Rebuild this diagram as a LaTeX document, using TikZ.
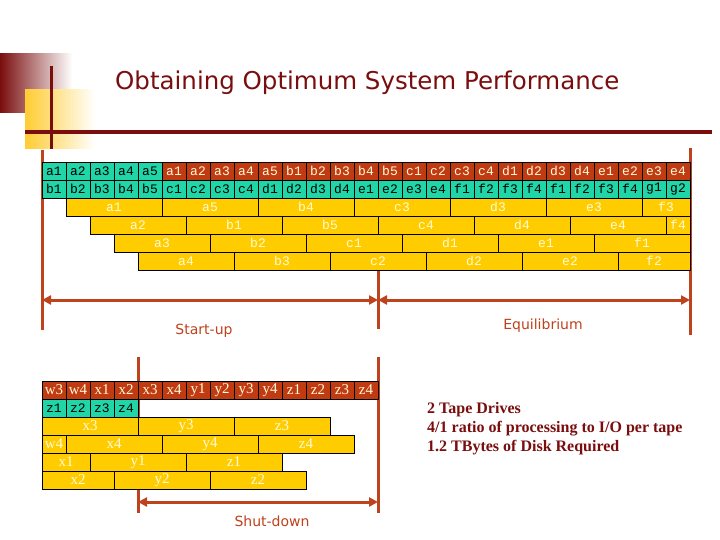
\documentclass[tikz,border=0pt]{standalone}
\usepackage{fontspec}
\setmainfont{Liberation Serif}
\newfontfamily\monof{Liberation Mono}
\newfontfamily\titlef{DejaVu Sans}
\newfontfamily\labf{DejaVu Sans}
\usetikzlibrary{arrows.meta}
\definecolor{teal1}{RGB}{32,214,168}
\definecolor{rustc}{RGB}{192,58,18}
\definecolor{yell}{RGB}{255,204,0}
\definecolor{dred}{RGB}{122,14,14}
\definecolor{linec}{RGB}{190,66,28}
\definecolor{ytext}{RGB}{255,250,215}
\definecolor{ygrad}{RGB}{255,204,51}
\begin{document}
\begin{tikzpicture}[x=1pt,y=-1pt,
 cellbase/.style={draw=black,line width=0.8pt,minimum width=24pt,minimum height=18pt,inner sep=0pt,outer sep=0pt},
 tcell/.style={cellbase,fill=teal1,text=black,font=\monof\fontsize{13}{13}\selectfont},
 rcell/.style={cellbase,fill=rustc,text=ytext,font=\monof\fontsize{13}{13}\selectfont},
 brcell/.style={cellbase,fill=rustc,text=ytext,font=\fontsize{15}{15}\selectfont},
 yblock/.style={cellbase,fill=yell,text=ytext,font=\monof\fontsize{13}{13}\selectfont},
 byblock/.style={cellbase,fill=yell,text=ytext,font=\fontsize{15}{15}\selectfont},
 guide/.style={draw=linec,line width=3pt},
 spanarrow/.style={guide,{Triangle[length=9pt,width=9pt]}-{Triangle[length=9pt,width=9pt]}},
 phase/.style={text=linec,font=\labf\fontsize{14}{14}\selectfont},
]
\useasboundingbox (0,0) rectangle (720,540);
\fill[white] (0,0) rectangle (720,540);
% decoration
\shade[left color=dred,right color=white] (0,54) rectangle (72,113);
\shade[left color=ygrad,right color=white] (25,90) rectangle (95,149);
\draw[dred,line width=3pt] (51,66) -- (51,149);
\draw[dred,line width=3.5pt] (25,132) -- (712,132);
\node[font=\titlef\fontsize{24.5}{24.5}\selectfont,text=dred,anchor=west,inner sep=0pt] (title) at (115,83) {Obtaining Optimum System Performance};
% guide lines
\coordinate (L1) at (42,150); \coordinate (L2) at (42,330);
\coordinate (M1) at (378,270); \coordinate (M2) at (378,329);
\coordinate (R1) at (690,148); \coordinate (R2) at (690,335);
\coordinate (B1) at (138,357); \coordinate (B2) at (138,513);
\coordinate (B3) at (378,357); \coordinate (B4) at (378,513);
\coordinate (A1) at (42,300); \coordinate (A2) at (378,300); \coordinate (A3) at (690,300);
\coordinate (S1) at (138,502); \coordinate (S2) at (378,502);
\draw[guide] (L1) -- (L2);
\draw[guide] (M1) -- (M2);
\draw[guide] (R1) -- (R2);
\draw[guide] (B1) -- (B2);
\draw[guide] (B3) -- (B4);
% top table
\foreach \t [count=\i from 0] in {a1,a2,a3,a4,a5}
  {\node[tcell] (ta\i) at (54+24*\i,171) {\t};}
\foreach \t [count=\i from 5] in {a1,a2,a3,a4,a5,b1,b2,b3,b4,b5,c1,c2,c3,c4,d1,d2,d3,d4,e1,e2,e3,e4}
  {\node[rcell] (ta\i) at (54+24*\i,171) {\t};}
\foreach \t [count=\i from 0] in {b1,b2,b3,b4,b5,c1,c2,c3,c4,d1,d2,d3,d4,e1,e2,e3,e4,f1,f2,f3,f4,f1,f2,f3,f4,g1,g2}
  {\node[tcell] (tb\i) at (54+24*\i,189) {\t};}
\foreach \t/\s/\w [count=\i] in {a1/66/96,a5/162/96,b4/258/96,c3/354/96,d3/450/96,e3/546/96,f3/642/48}
  {\node[yblock,minimum width=\w pt] (tc\i) at (\s+\w/2,207) {\t};}
\foreach \t/\s/\w [count=\i] in {a2/90/96,b1/186/96,b5/282/96,c4/378/96,d4/474/96,e4/570/96,f4/666/24}
  {\node[yblock,minimum width=\w pt] (td\i) at (\s+\w/2,225) {\t};}
\foreach \t/\s/\w [count=\i] in {a3/114/96,b2/210/96,c1/306/96,d1/402/96,e1/498/96,f1/594/96}
  {\node[yblock,minimum width=\w pt] (te\i) at (\s+\w/2,243) {\t};}
\foreach \t/\s/\w [count=\i] in {a4/138/96,b3/234/96,c2/330/96,d2/426/96,e2/522/96,f2/618/72}
  {\node[yblock,minimum width=\w pt] (tf\i) at (\s+\w/2,261) {\t};}
% bottom table
\foreach \t [count=\i from 0] in {w3,w4,x1,x2,x3,x4,y1,y2,y3,y4,z1,z2,z3,z4}
  {\node[brcell] (ba\i) at (54+24*\i,390) {\t};}
\foreach \t [count=\i from 0] in {z1,z2,z3,z4}
  {\node[tcell] (bb\i) at (54+24*\i,408) {\t};}
\foreach \t/\s/\w [count=\i] in {x3/42/96,y3/138/96,z3/234/96}
  {\node[byblock,minimum width=\w pt] (bc\i) at (\s+\w/2,426) {\t};}
\foreach \t/\s/\w [count=\i] in {w4/42/24,x4/66/96,y4/162/96,z4/258/96}
  {\node[byblock,minimum width=\w pt] (bd\i) at (\s+\w/2,444) {\t};}
\foreach \t/\s/\w [count=\i] in {x1/42/48,y1/90/96,z1/186/96}
  {\node[byblock,minimum width=\w pt] (be\i) at (\s+\w/2,462) {\t};}
\foreach \t/\s/\w [count=\i] in {x2/42/72,y2/114/96,z2/210/96}
  {\node[byblock,minimum width=\w pt] (bf\i) at (\s+\w/2,480) {\t};}
% arrows
\draw[spanarrow] (A1) -- (A2);
\draw[spanarrow] (A2) -- (A3);
\draw[spanarrow] (S1) -- (S2);
\node[phase] (startup) at (204,331) {Start-up};
\node[phase] (equil) at (543,326) {Equilibrium};
\node[phase] (shutdown) at (272,521) {Shut-down};
\node[anchor=west,align=left,text=dred,inner sep=0pt,font=\bfseries\fontsize{16}{19}\selectfont] (notes) at (427,429)
  {2 Tape Drives\\4/1 ratio of processing to I/O per tape\\1.2 TBytes of Disk Required};
\end{tikzpicture}
\end{document}
